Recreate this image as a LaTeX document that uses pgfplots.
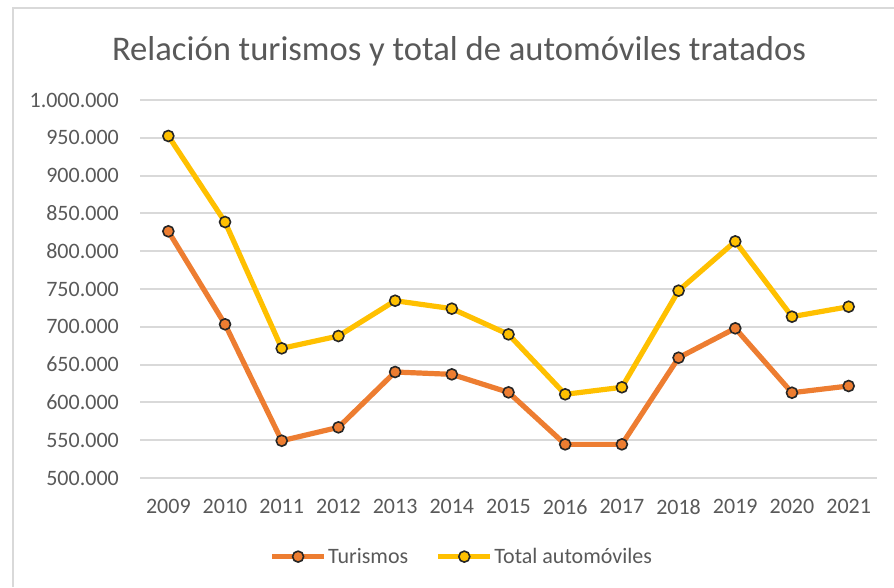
\documentclass[border=0pt]{standalone}
\usepackage{pgfplots}
\pgfplotsset{compat=1.18}
\usepackage{fontspec}
\setmainfont{Carlito}
\definecolor{turis}{HTML}{ED7D31}
\definecolor{total}{HTML}{FFC000}
\definecolor{txtgray}{HTML}{595959}
\definecolor{gridgray}{HTML}{D9D9D9}
\definecolor{mkedge}{HTML}{262626}
\begin{document}
\begin{tikzpicture}[x=1pt,y=1pt]
\path[use as bounding box] (0,0) rectangle (894,587);
\draw[gridgray, line width=2pt] (13,0) -- (13,579) -- (894,579);
\node[anchor=base, text=txtgray, inner sep=0pt, font=\fontsize{34.6}{40}\selectfont] at (459,526) {Relación turismos y total de automóviles tratados};
\begin{axis}[
  at={(140pt,109pt)}, anchor=south west,
  scale only axis, width=737pt, height=378pt,
  xmin=-0.5, xmax=12.5, ymin=500000, ymax=1000000,
  xtick={0,...,12},
  xticklabels={2009,2010,2011,2012,2013,2014,2015,2016,2017,2018,2019,2020,2021},
  ytick={500000,550000,600000,650000,700000,750000,800000,850000,900000,950000,1000000},
  yticklabels={500.000,550.000,600.000,650.000,700.000,750.000,800.000,850.000,900.000,950.000,1.000.000},
  scaled y ticks=false,
  axis line style={draw=none},
  major tick length=0pt,
  ymajorgrids,
  grid style={gridgray, line width=2pt},
  tick label style={text=txtgray, font=\fontsize{22}{26}\selectfont, inner sep=0pt},
  yticklabel style={anchor=east, xshift=-21pt},
  xticklabel style={anchor=north, yshift=-21pt},
  legend style={at={(0.4362,-0.208)}, anchor=center, draw=none, fill=none,
    font=\fontsize{22}{26}\selectfont, text=txtgray,
    /tikz/every even column/.append style={column sep=26pt},
    nodes={inner sep=1.5pt}},
  legend columns=2,
  legend image code/.code={\draw[mark repeat=2,mark phase=2,#1] plot coordinates {(0pt,0pt) (26pt,0pt) (52pt,0pt)};},
  every axis plot/.append style={line width=5.2pt, mark=*, mark size=5.5pt},
]
\addplot[turis, mark options={draw=mkedge, fill=turis, line width=1.6pt}] coordinates {
(0,826300) (1,703300) (2,549300) (3,567000) (4,640200) (5,637100) (6,613300)
(7,544500) (8,544500) (9,659100) (10,698000) (11,612800) (12,621700)};
\addlegendentry{Turismos}
\addplot[total, mark options={draw=mkedge, fill=total, line width=1.6pt}] coordinates {
(0,952400) (1,838600) (2,671500) (3,687800) (4,734500) (5,724000) (6,690000)
(7,610700) (8,620000) (9,747800) (10,813000) (11,713400) (12,726600)};
\addlegendentry{Total automóviles}
\end{axis}
\end{tikzpicture}
\end{document}
